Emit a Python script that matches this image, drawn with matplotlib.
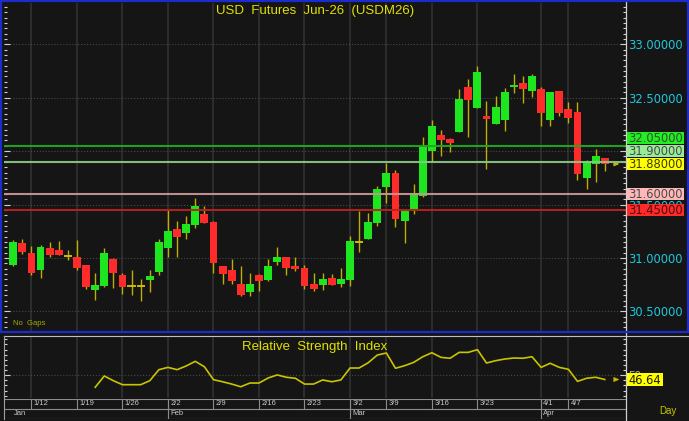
import numpy as np
import pandas as pd
import matplotlib
matplotlib.use('Agg')
import matplotlib.pyplot as plt
from matplotlib.patches import Rectangle
from matplotlib.lines import Line2D
from matplotlib.ticker import MultipleLocator, FormatStrFormatter, NullFormatter

plt.rcParams['font.family'] = ['Liberation Sans', 'DejaVu Sans']

# daily OHLC, USDM26
opens = [30.93, 31.14, 31.05, 30.89, 31.09, 31.07, 31.02, 31.01, 30.93, 30.70,
         30.74, 30.99, 30.84, 30.74, 30.74, 30.79, 30.87, 31.09, 31.27, 31.23,
         31.31, 31.41, 31.34, 30.92, 30.89, 30.76, 30.68, 30.84, 30.79, 30.96,
         31.01, 30.92, 30.91, 30.76, 30.75, 30.81, 30.76, 30.79, 31.15, 31.18,
         31.33, 31.66, 31.80, 31.35, 31.46, 31.58, 32.00, 32.15, 32.11, 32.18,
         32.60, 32.40, 32.33, 32.25, 32.29, 32.60, 32.64, 32.56, 32.58, 32.29,
         32.56, 32.39, 32.37, 31.75, 31.88, 31.94]
highs = [31.17, 31.18, 31.11, 31.12, 31.15, 31.16, 31.07, 31.17, 30.93, 30.86,
         31.09, 31.00, 30.86, 30.89, 30.80, 30.89, 31.18, 31.45, 31.35, 31.39,
         31.56, 31.49, 31.35, 30.92, 30.99, 30.92, 30.86, 30.85, 30.99, 31.10,
         31.01, 31.01, 30.93, 30.86, 30.86, 30.85, 30.91, 31.21, 31.44, 31.42,
         31.67, 31.89, 31.82, 31.46, 31.69, 32.13, 32.29, 32.20, 32.12, 32.58,
         32.68, 32.80, 32.47, 32.52, 32.59, 32.72, 32.70, 32.72, 32.60, 32.55,
         32.56, 32.46, 32.46, 31.92, 32.02, 31.94]
lows = [30.92, 31.04, 30.84, 30.81, 31.01, 31.03, 30.98, 30.89, 30.71, 30.61,
        30.73, 30.72, 30.66, 30.65, 30.60, 30.68, 30.84, 31.01, 31.01, 31.18,
        31.28, 31.33, 30.86, 30.76, 30.76, 30.64, 30.64, 30.69, 30.78, 30.93,
        30.84, 30.88, 30.71, 30.69, 30.70, 30.75, 30.73, 30.74, 31.06, 31.18,
        31.30, 31.51, 31.29, 31.14, 31.41, 31.57, 31.90, 31.95, 31.99, 32.18,
        32.13, 32.40, 31.83, 32.25, 32.19, 32.54, 32.45, 32.51, 32.24, 32.24,
        32.33, 32.26, 31.73, 31.65, 31.71, 31.81]
closes = [31.15, 31.06, 30.86, 31.10, 31.03, 31.03, 31.02, 30.91, 30.73, 30.75,
          31.05, 30.86, 30.73, 30.74, 30.74, 30.83, 31.15, 31.25, 31.20, 31.32,
          31.49, 31.33, 30.95, 30.85, 30.78, 30.65, 30.76, 30.78, 30.92, 31.01,
          30.91, 30.90, 30.74, 30.71, 30.80, 30.75, 30.80, 31.16, 31.15, 31.34,
          31.65, 31.80, 31.36, 31.44, 31.61, 32.04, 32.24, 32.10, 32.08, 32.49,
          32.48, 32.74, 32.30, 32.41, 32.55, 32.62, 32.58, 32.70, 32.36, 32.55,
          32.36, 32.31, 31.79, 31.91, 31.95, 31.88]

# RSI, first value on the 10th bar
rsi_first = 9
rsi = [40.6, 49.4, 45.7, 42.6, 42.6, 42.6, 45.7, 54.3, 56.1, 54.3,
       57.2, 60.8, 56.6, 46.5, 44.9, 43.1, 41.0, 43.9, 43.9, 47.8,
       50.2, 48.4, 47.6, 43.1, 43.1, 46.3, 44.9, 46.3, 55.6, 55.6,
       59.7, 65.7, 67.3, 55.4, 57.4, 60.0, 64.4, 67.5, 63.9, 63.2,
       67.8, 67.8, 69.9, 59.5, 61.3, 62.6, 63.4, 63.2, 64.4, 56.1,
       59.3, 56.1, 54.6, 45.2, 47.6, 48.4, 46.64]

# trading days
holidays = ['2026-03-06', '2026-04-03']
week_labels = ['1/12', '1/19', '1/26', '2/2', '2/9', '2/16', '2/23', '3/2', '3/9',
               '3/16', '3/23', '4/1', '4/7']
week_dates = ['2026-01-12', '2026-01-19', '2026-01-26', '2026-02-02', '2026-02-09',
              '2026-02-16', '2026-02-23', '2026-03-02', '2026-03-09', '2026-03-16',
              '2026-03-23', '2026-04-01', '2026-04-07']
month_labels = ['Jan', 'Feb', 'Mar', 'Apr']
month_dates = ['2026-01-08', '2026-02-02', '2026-03-02', '2026-04-01']

# horizontal levels: value, line colour, label colour, label text colour, label shift (px)
levels = [32.05, 31.90, 31.60, 31.45]
level_line = ['#22a822', '#86c886', '#c89494', '#b82222']
level_box = ['#22ee22', '#98ec98', '#ffb8b8', '#ff2a2a']
level_text = ['#2f4f2f', '#4a4a4a', '#4a4a4a', '#4a0a0a']
level_shift = [8, 11, 0, 0]

dates = pd.bdate_range('2026-01-08', '2026-04-13').drop(pd.to_datetime(holidays))
n = len(closes)
x = np.arange(n)
week_idx = dates.get_indexer(pd.to_datetime(week_dates))
month_idx = dates.get_indexer(pd.to_datetime(month_dates))

o = np.array(opens); h = np.array(highs); l = np.array(lows); c = np.array(closes)

W, H = 689, 421
BG = '#151515'
fig = plt.figure(figsize=(W / 100, H / 100), dpi=100, facecolor=BG)

def fx(px):
    return px / W

def fy(py):
    return 1 - py / H

x0, x1 = 4, 626
ax = fig.add_axes([fx(x0), fy(331), fx(x1 - x0), (331 - 3) / H])
ax2 = fig.add_axes([fx(x0), fy(398.3), fx(x1 - x0), (398.3 - 336.7) / H], sharex=ax)
ax3 = fig.add_axes([fx(x0), fy(418.5), fx(x1 - x0), (418.5 - 399) / H], sharex=ax)

for a in (ax, ax2, ax3):
    a.set_facecolor(BG)
    for s in a.spines.values():
        s.set_visible(False)

ax.set_xlim(-1.02, 67.33)
ax.set_ylim(30.316, 33.387)

# candles
wick = '#bfae00'
up = c > o
doji = np.isclose(o, c)
ax.vlines(x, l, h, color=wick, lw=1.0, zorder=2)
body = ~doji
ax.bar(x[body], np.abs(c - o)[body], bottom=np.minimum(o, c)[body], width=0.86,
       color=np.where(up[body], '#1ee61e', '#ff2a2a'), edgecolor='none', zorder=3)
ax.hlines(o[doji], x[doji] - 0.45, x[doji] + 0.45, color='#d8c800', lw=1.3, zorder=3)

for v, lc in zip(levels, level_line):
    ax.axhline(v, color=lc, lw=1.5, zorder=4, alpha=0.95)

ax.annotate('', xy=(n + 0.55, c[-1]), xytext=(n, c[-1]),
            arrowprops=dict(arrowstyle='-|>', color='#c8b400', lw=1, mutation_scale=6))

ax.yaxis.set_major_locator(MultipleLocator(0.5))
ax.yaxis.set_minor_locator(MultipleLocator(0.05))
ax.yaxis.set_major_formatter(FormatStrFormatter('%.5f'))
ax.tick_params(axis='y', which='both', direction='in', left=True, right=True,
               labelleft=False, labelright=True, color='#d0d0d0',
               labelcolor='#1ec8dc', labelsize=8.3, pad=1.5)
ax.tick_params(axis='y', which='major', length=4.5, width=0.8)
ax.tick_params(axis='y', which='minor', length=2.2, width=0.8)
for t in ax.get_yticklabels():
    t.set_family('DejaVu Sans')
ax.set_xticks(week_idx)
ax.tick_params(axis='x', length=0, labelbottom=False)
ax.grid(axis='x', color='#2c2c2c', lw=1.5)
ax.grid(axis='y', which='major', color='#474747', ls=':', lw=0.8)
ax.set_axisbelow(True)

ax.text(0.5, 0.975, 'USD  Futures  Jun-26  (USDM26)', transform=ax.transAxes,
        ha='center', va='center', color='#e0e000', fontsize=9.5)
ax.text(0.014, 0.012, 'No  Gaps', transform=ax.transAxes, ha='left', va='bottom',
        color='#a8a800', fontsize=5.5)

# RSI
ax2.set_ylim(32, 80)
ax2.plot(x[rsi_first:rsi_first + len(rsi)], rsi, color='#c8c400', lw=1.2, zorder=3)
ax2.annotate('', xy=(n + 0.55, rsi[-1]), xytext=(n, rsi[-1]),
             arrowprops=dict(arrowstyle='-|>', color='#c8b400', lw=1, mutation_scale=6))
ax2.set_yticks([50])
ax2.yaxis.set_minor_locator(MultipleLocator(4, offset=2))
ax2.tick_params(axis='y', which='both', direction='in', left=True, right=True,
                labelleft=False, labelright=True, color='#d0d0d0',
                labelcolor='#b0b0b0', labelsize=8.3, pad=1.5)
ax2.tick_params(axis='y', which='major', length=4.5, width=0.8)
ax2.tick_params(axis='y', which='minor', length=2.2, width=0.8)
ax2.tick_params(axis='x', length=0, labelbottom=False)
ax2.grid(axis='x', color='#2c2c2c', lw=1.5)
ax2.grid(axis='y', which='major', color='#474747', ls=':', lw=0.8)
ax2.set_axisbelow(True)
ax2.text(0.5, 0.84, 'Relative  Strength  Index', transform=ax2.transAxes,
         ha='center', va='center', color='#e0e000', fontsize=9.5)

# date strip
ax3.set_ylim(0, 2)
ax3.tick_params(axis='both', length=0, labelbottom=False, labelleft=False)
ax3.set_yticks([])
for yy in (0, 1, 2):
    ax3.axhline(yy, color='#8c8c8c', lw=0.8)
ax3.vlines(week_idx, 1, 2, color='#8c8c8c', lw=0.8)
ax3.vlines(month_idx[1:], 0, 2, color='#8c8c8c', lw=0.8)
for xi, lab in zip(week_idx, week_labels):
    ax3.text(xi + 0.25, 1.5, lab, color='#c8c8c8', fontsize=5.5, ha='left', va='center')
for k, (xi, lab) in enumerate(zip(month_idx, month_labels)):
    xt = xi + 0.25 if k else xi + 0.05
    ax3.text(xt, 0.48, lab, color='#c8c8c8', fontsize=5.5, ha='left', va='center')

# side labels
def side_label(axis, v, txt, fc, tc, dy=0, w=57, hgt=12):
    y = axis.transData.transform((0, v))[1] + dy
    fig.add_artist(Rectangle((fx(627), (y - hgt / 2) / H), fx(w), hgt / H,
                             transform=fig.transFigure, fc=fc, ec='none', zorder=5))
    fig.text(fx(628.5), (y - 4.2) / H, txt, color=tc, fontsize=8.3, family='DejaVu Sans',
             ha='left', va='baseline', zorder=6)

for v, fc, tc, dy in zip(levels[:2], level_box[:2], level_text[:2], level_shift[:2]):
    side_label(ax, v, '%.5f' % v, fc, tc, dy)
side_label(ax, c[-1], '%.5f' % c[-1], '#ffff00', '#3a3a00')
for v, fc, tc, dy in zip(levels[2:], level_box[2:], level_text[2:], level_shift[2:]):
    side_label(ax, v, '%.5f' % v, fc, tc, dy)
side_label(ax2, rsi[-1], '%.2f' % rsi[-1], '#ffff00', '#1a1a00', 0, 36, 13)

# frames
fig.add_artist(Rectangle((fx(1), fy(332)), fx(687), 331 / H, transform=fig.transFigure,
                         fill=False, ec='#1c2ccc', lw=1.6, zorder=4))
fig.add_artist(Line2D([fx(4), fx(689)], [fy(335.5), fy(335.5)], color='#c0c0c0', lw=0.8))
fig.add_artist(Line2D([fx(4), fx(4)], [fy(335.5), fy(419)], color='#a0a0a0', lw=0.8))
fig.add_artist(Line2D([fx(626), fx(626)], [fy(2), fy(421)], color='#d0d0d0', lw=0.9))
fig.text(fx(668), fy(411), 'Day', color='#c8c800', fontsize=7, ha='center', va='center')

fig.savefig('out.png', dpi=100, facecolor=BG)
